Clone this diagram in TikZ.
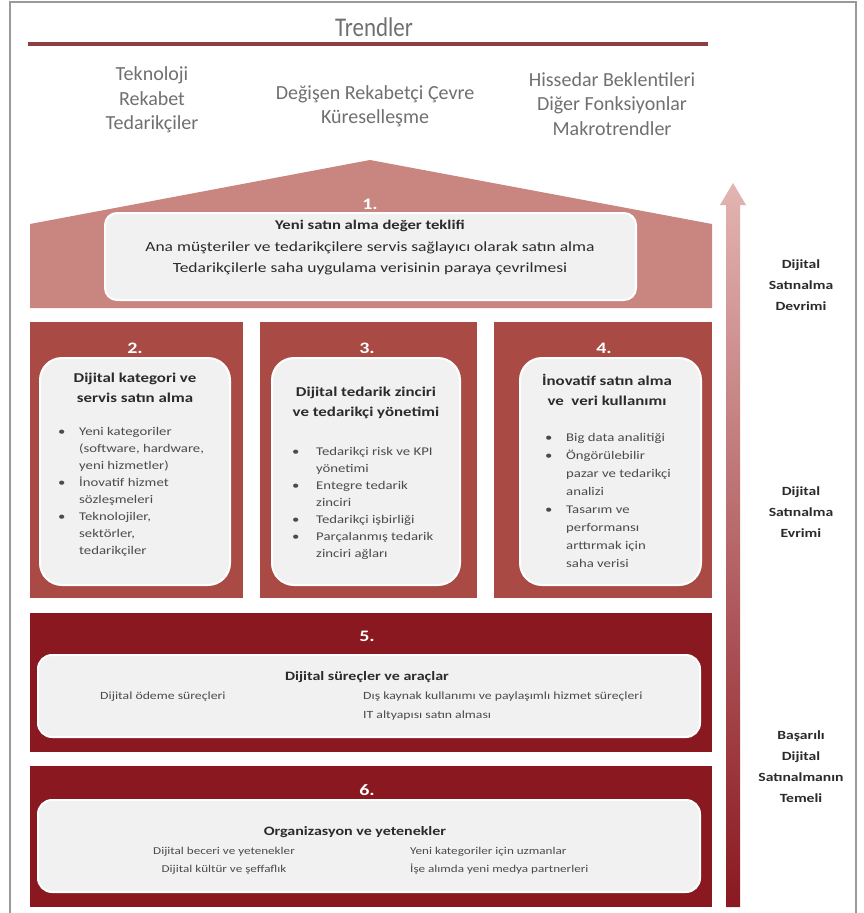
\documentclass[tikz,border=0pt]{standalone}
\usepackage{fontspec}
\setmainfont{Carlito}[FakeStretch=1.25]
\newfontfamily\trendfont{Carlito}
\newfontfamily\titlefont{Carlito}[FakeStretch=0.85]
\usetikzlibrary{calc,positioning}
\definecolor{dpRoof}{HTML}{C9857F}
\definecolor{dpMid}{HTML}{A94A45}
\definecolor{dpDark}{HTML}{8A1820}
\definecolor{dpLine}{HTML}{8E3E42}
\definecolor{dpGray}{HTML}{F1F1F1}
\definecolor{dpText}{HTML}{707070}
\definecolor{dpInk}{HTML}{2B2B2B}
\definecolor{dpFrame}{HTML}{9A9A9A}
\definecolor{dpArrTop}{HTML}{E2B5B2}

\begin{document}
\begin{tikzpicture}[x=1pt,y=-1pt,
  trend/.style={font=\trendfont\fontsize{20}{24.5}\selectfont,text=dpText,align=center},
  pil/.style={fill=#1,inner sep=0pt,outer sep=0pt},
  card/.style={fill=dpGray,draw=white,line width=2pt,rounded corners=#1,inner sep=0pt},
  num/.style={font=\fontsize{16}{20}\selectfont\bfseries,text=white},
  head/.style={font=\fontsize{13.5}{20}\selectfont\bfseries,text=dpInk,align=center},
  body/.style={font=\fontsize{11.8}{17}\selectfont,text=dpInk!85,inner sep=0pt},
  side/.style={font=\fontsize{12.5}{21}\selectfont\bfseries,text=dpInk,align=center}]
  \useasboundingbox (0,0) rectangle (863,913);
  \fill[white] (0,0) rectangle (863,913);
  \draw[dpFrame,line width=1.2pt] (10,913) -- (10,2) -- (856,2) -- (856,913);
  % trends
  \node[font=\titlefont\fontsize{27}{30}\selectfont,text=dpText] (ttl) at (374,27) {Trendler};
  \draw[dpLine,line width=4pt] (28,44) -- (708,44);
  \node[trend] (t1) at (152,100) {Teknoloji\\Rekabet\\Tedarikçiler};
  \node[trend] (t2) at (375,106) {Değişen Rekabetçi Çevre\\Küreselleşme};
  \node[trend] (t3) at (612,104) {Hissedar Beklentileri\\Diğer Fonksiyonlar\\Makrotrendler};
  % roof
  \fill[dpRoof] (30,308) -- (30,224) -- (370,160) -- (712,224) -- (712,308) -- cycle;
  \node[num] (n1) at (370,204) {1.};
  \node[card=12pt,minimum width=531,minimum height=87] (c1) at (370.5,256.5) {};
  \node[align=center,text=dpInk,font=\fontsize{14}{21.5}\selectfont] (b1) at (370,248)
    {{\fontsize{13.3}{21.5}\selectfont\bfseries Yeni satın alma değer teklifi}\\
     Ana müşteriler ve tedarikçilere servis sağlayıcı olarak satın alma\\
     Tedarikçilerle saha uygulama verisinin paraya çevrilmesi};
  % pillars
  \node[pil=dpMid,minimum width=213,minimum height=276] (p2) at (136.5,460) {};
  \node[pil=dpMid,minimum width=217,minimum height=276] (p3) at (368.5,460) {};
  \node[pil=dpMid,minimum width=218,minimum height=276] (p4) at (603,460) {};
  \node[num] (n2) at (135,348) {2.};
  \node[num] (n3) at (367,348) {3.};
  \node[num] (n4) at (604,348) {4.};
  \node[card=22pt,minimum width=190,minimum height=227] (c2) at (135,471.5) {};
  \node[card=22pt,minimum width=188,minimum height=227] (c3) at (366,471.5) {};
  \node[card=22pt,minimum width=181,minimum height=227] (c4) at (610.5,471.5) {};
  \node[head] (h2) at (135,388) {Dijital kategori ve\\servis satın alma};
  \node[head] (h3) at (366,403) {Dijital tedarik zinciri\\ve tedarikçi yönetimi};
  \node[head] (h4) at (607,390) {İnovatif satın alma\\ve\ \ veri kullanımı};
  \node[body,anchor=north west] (l2) at (58,423.6)
    {\begin{tabular}{@{}p{21pt}@{}l@{}}
     \textbullet & Yeni kategoriler\\ & (software, hardware,\\ & yeni hizmetler)\\
     \textbullet & İnovatif hizmet\\ & sözleşmeleri\\
     \textbullet & Teknolojiler,\\ & sektörler,\\ & tedarikçiler
     \end{tabular}};
  \node[body,anchor=north west] (l3) at (292,443.6)
    {\begin{tabular}{@{}p{24pt}@{}l@{}}
     \textbullet & Tedarikçi risk ve KPI\\ & yönetimi\\
     \textbullet & Entegre tedarik\\ & zinciri\\
     \textbullet & Tedarikçi işbirliği\\
     \textbullet & Parçalanmış tedarik\\ & zinciri ağları
     \end{tabular}};
  \node[body,anchor=north west,font=\fontsize{11.8}{18}\selectfont] (l4) at (545,429)
    {\begin{tabular}{@{}p{21pt}@{}l@{}}
     \textbullet & Big data analitiği\\
     \textbullet & Öngörülebilir\\ & pazar ve tedarikçi\\ & analizi\\
     \textbullet & Tasarım ve\\ & performansı\\ & arttırmak için\\ & saha verisi
     \end{tabular}};
  % foundations
  \node[pil=dpDark,minimum width=682,minimum height=139] (p5) at (371,682.5) {};
  \node[num] (n5) at (367,636) {5.};
  \node[card=14pt,minimum width=662,minimum height=82] (c5) at (369,696) {};
  \node[head,font=\fontsize{12.8}{20}\selectfont\bfseries] (h5) at (367,677) {Dijital süreçler ve araçlar};
  \node[body,font=\fontsize{11}{19}\selectfont,anchor=west] (l5a) at (100,697) {Dijital ödeme süreçleri};
  \node[body,font=\fontsize{11}{19}\selectfont,anchor=west,align=left] (l5b) at (363,706.5)
    {Dış kaynak kullanımı ve paylaşımlı hizmet süreçleri\\IT altyapısı satın alması};
  \node[pil=dpDark,minimum width=682,minimum height=141] (p6) at (371,836.5) {};
  \node[num] (n6) at (367,790) {6.};
  \node[card=14pt,minimum width=662,minimum height=92] (c6) at (369,846) {};
  \node[head,font=\fontsize{12.8}{20}\selectfont\bfseries] (h6) at (355,832) {Organizasyon ve yetenekler};
  \node[body,align=center,font=\fontsize{10.5}{18}\selectfont] (l6a) at (224,861)
    {Dijital beceri ve yetenekler\\Dijital kültür ve şeffaflık};
  \node[body,anchor=west,align=left,font=\fontsize{10.5}{18}\selectfont] (l6b) at (410,861)
    {Yeni kategoriler için uzmanlar\\İşe alımda yeni medya partnerleri};
  % rising arrow
  \shade[top color=dpArrTop,bottom color=dpDark]
    (726,907) -- (726,205) -- (720,205) -- (733,183) -- (746,205) -- (740,205) -- (740,907) -- cycle;
  \node[side] (s1) at (801,285) {Dijital\\Satınalma\\Devrimi};
  \node[side] (s2) at (801,512) {Dijital\\Satınalma\\Evrimi};
  \node[side] (s3) at (801,767) {Başarılı\\Dijital\\Satınalmanın\\Temeli};
\end{tikzpicture}
\end{document}
